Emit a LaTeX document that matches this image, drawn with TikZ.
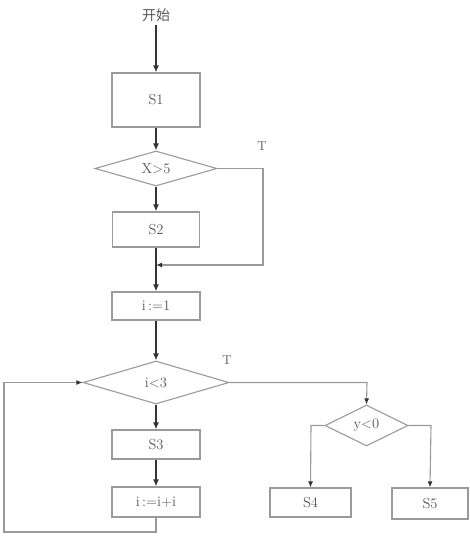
\documentclass[tikz,border=0pt]{standalone}
\usepackage{fontspec}
\newfontfamily\cjk{Noto Sans CJK SC}
\usetikzlibrary{shapes.geometric,arrows.meta}
\definecolor{boxline}{HTML}{9A9A9A}
\definecolor{txt}{HTML}{555555}
\definecolor{mainline}{HTML}{333333}
\begin{document}
\begin{tikzpicture}[x=1pt,y=-1pt,
  box/.style={draw=boxline,line width=1.1pt,rectangle,inner sep=0pt,text=txt,font=\fontsize{14.5}{14.5}\selectfont},
  dia/.style={draw=boxline,line width=1.1pt,diamond,aspect=3,inner sep=0pt,text=txt,font=\fontsize{14.5}{14.5}\selectfont},
  mainarrow/.style={draw=mainline,line width=1.5pt,-{Latex[length=7pt,width=6pt]}},
  sidearrow/.style={draw=boxline,line width=1.1pt,-{Latex[length=6pt,width=5pt,color=mainline]}},
  lbl/.style={text=txt,font=\fontsize{13}{13}\selectfont}]
\useasboundingbox (0,0) rectangle (470,537);
\node[text=txt,font=\cjk\fontsize{14}{14}\selectfont] (start) at (156,15) {开始};
\node[box,minimum width=88pt,minimum height=54pt] (s1) at (156,100) {S1};
\node[dia,minimum width=122pt,minimum height=35pt] (d1) at (156,168.5) {X>5};
\node[box,minimum width=87pt,minimum height=35pt] (s2) at (156,229.5) {S2};
\coordinate (join) at (156,265);
\node[box,minimum width=88pt,minimum height=28pt] (i1) at (156,306) {i\,:=1};
\node[dia,minimum width=146pt,minimum height=43pt] (d2) at (156,382.5) {i<3};
\node[box,minimum width=88pt,minimum height=29pt] (s3) at (156,444.5) {S3};
\node[box,minimum width=88pt,minimum height=30pt] (i2) at (156,502) {i\,:=i+i};
\node[dia,minimum width=83pt,minimum height=41pt] (d3) at (366.5,425.5) {y<0};
\node[box,minimum width=81pt,minimum height=29pt] (s4) at (310.5,502.5) {S4};
\node[box,minimum width=76pt,minimum height=31pt] (s5) at (430,503.5) {S5};
\node[lbl] (t1) at (262,146) {T};
\node[lbl] (t2) at (227,360) {T};
\coordinate (c1a) at (263,168.5);
\coordinate (c1b) at (263,265);
\coordinate (c2a) at (367,382.5);
\coordinate (c3a) at (311,425.5);
\coordinate (c4a) at (431,425.5);
\coordinate (l1) at (156,532);
\coordinate (l2) at (4,532);
\coordinate (l3) at (4,382.5);
% main flow
\draw[mainarrow] (start) -- (s1);
\draw[mainarrow] (s1) -- (d1);
\draw[mainarrow] (d1) -- (s2);
\draw[mainarrow] (s2) -- (i1);
\draw[mainarrow] (i1) -- (d2);
\draw[mainarrow] (d2) -- (s3);
\draw[mainarrow] (s3) -- (i2);
% side connectors
\draw[sidearrow] (d1.east) -- (c1a) -- (c1b) -- (join);
\draw[sidearrow] (d2.east) -- (c2a) -- (d3.north);
\draw[sidearrow] (d3.west) -- (c3a) -- (s4.north);
\draw[sidearrow] (d3.east) -- (c4a) -- (s5.north);
\draw[sidearrow] (i2.south) -- (l1) -- (l2) -- (l3) -- (d2.west);
\end{tikzpicture}
\end{document}
